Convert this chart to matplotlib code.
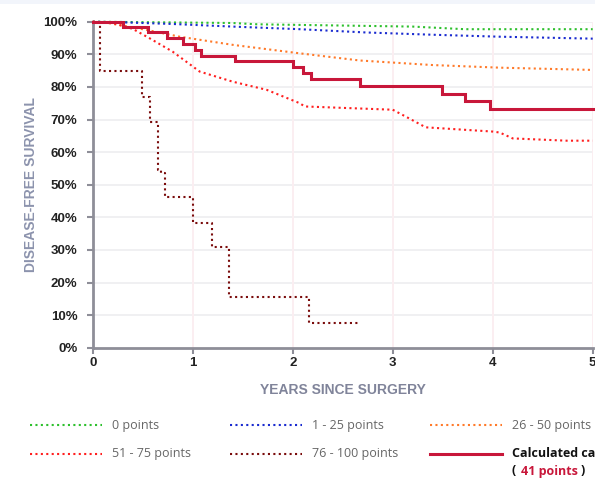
import matplotlib
matplotlib.use("Agg")
import matplotlib.pyplot as plt
from matplotlib.lines import Line2D

# ---- data ----
t_zero = [0, 1.4, 1.65, 3.2, 3.72, 5.0]
s_zero = [100, 99.6, 99.2, 98.5, 97.7, 97.7]

t_low = [0, 0.3, 0.8, 1.4, 2.07, 2.73, 3.4, 4.07, 5.0]
s_low = [100, 99.8, 99.3, 98.5, 97.7, 96.7, 96.0, 95.4, 94.8]

t_mid = [0, 0.17, 0.57, 0.87, 1.4, 2.07, 2.67, 3.4, 4.07, 5.0]
s_mid = [100, 99.5, 97.3, 95.4, 92.9, 90.3, 88.1, 86.7, 85.9, 85.2]

t_high = [0, 0.2, 0.4, 0.57, 0.8, 1.07, 1.4, 1.74, 2.07, 2.12, 3.0, 3.13, 3.33, 4.0, 4.07, 4.2, 4.74, 5.0]
s_high = [100, 99.6, 97.8, 94.9, 90.8, 84.7, 81.6, 79.1, 75.0, 74.0, 73.0, 70.9, 67.6, 66.3, 66.0, 64.2, 63.5, 63.5]

t_vhigh = [0, 0.07, 0.49, 0.57, 0.65, 0.68, 0.72, 1.0, 1.19, 1.36, 2.16, 2.67]
s_vhigh = [100, 84.9, 77.0, 69.3, 54.5, 53.5, 46.3, 38.4, 30.9, 15.5, 7.6, 7.6]

t_case = [0, 0.3, 0.55, 0.74, 0.9, 1.02, 1.08, 1.42, 2.0, 2.1, 2.18, 2.67, 3.49, 3.72, 3.97, 5.0]
s_case = [100, 98.5, 96.7, 94.9, 93.2, 91.3, 89.6, 87.9, 86.0, 84.2, 82.3, 80.3, 77.8, 75.7, 73.3, 73.3]

x_ticks = [0, 1, 2, 3, 4, 5]
y_ticks = [0, 10, 20, 30, 40, 50, 60, 70, 80, 90, 100]

labels = ["0 points", "1 - 25 points", "26 - 50 points", "51 - 75 points", "76 - 100 points"]
colors = ["#2ec02e", "#1a2bd0", "#ff7a2a", "#ff1f1f", "#7a0c0c"]
case_color = "#c8173a"
case_label = "Calculated case"
case_points = "41 points"

W, H = 595, 493
fig = plt.figure(figsize=(W / 100, H / 100), dpi=100)
fig.patch.set_facecolor("white")

# top light band
fig.add_artist(plt.Rectangle((0, 1 - 4 / H), 1, 4 / H, transform=fig.transFigure,
                             facecolor="#f2f5fb", edgecolor="none"))

x0, x1 = 92.7, 592.7
y_top, y_bot = 21.7, 347.7
ax = fig.add_axes([x0 / W, 1 - y_bot / H, (x1 - x0) / W, (y_bot - y_top) / H])
ax.set_xlim(0, 5)
ax.set_ylim(0, 100)

dot = (0, (1, 1.6))
series = [(t_zero, s_zero), (t_low, s_low), (t_mid, s_mid), (t_high, s_high)]
for (t, s), c in zip(series, colors[:4]):
    ax.plot(t, s, color=c, lw=1.5, ls=dot, clip_on=False, zorder=3)
ax.step(t_vhigh, s_vhigh, where="post", color=colors[4], lw=1.5, ls=dot, clip_on=False, zorder=3)
ax.step(t_case, s_case, where="post", color=case_color, lw=2.2, clip_on=False, zorder=4,
        solid_joinstyle="miter")

# grid
for yv in y_ticks[1:]:
    ax.axhline(yv, color="#f0f0f2", lw=1.4, zorder=1)
for xv in x_ticks[1:]:
    ax.axvline(xv, color="#fbeef1", lw=1.4, zorder=1)

for side in ["top", "right"]:
    ax.spines[side].set_visible(False)
for side in ["left", "bottom"]:
    ax.spines[side].set_color("#8e8e98")
    ax.spines[side].set_linewidth(2)

ax.set_xticks(x_ticks)
ax.set_yticks(y_ticks)
ax.set_yticklabels([f"{v}%" for v in y_ticks])
ax.tick_params(axis="both", length=4, width=1.5, color="#8e8e98", labelsize=9.5, labelcolor="#222222")
ax.tick_params(axis="y", pad=7)
ax.tick_params(axis="x", pad=3)
for lab in ax.get_xticklabels() + ax.get_yticklabels():
    lab.set_fontweight("bold")
    lab.set_fontfamily("Liberation Sans")

ax.set_ylabel("DISEASE-FREE SURVIVAL", fontsize=10, color="#8c93ad", fontweight="bold",
              family="Liberation Sans", labelpad=4)
ax.set_xlabel("YEARS SINCE SURGERY", fontsize=10, color="#80849a", fontweight="bold",
              family="Liberation Sans", labelpad=10)

# legend
def fx(px):
    return px / W

def fy(py):
    return 1 - py / H

rows = [425, 453.5]
cols = [(30, 112), (230, 312), (430, 512)]
fs = 9
for i, (lab, c) in enumerate(zip(labels, colors)):
    r, cidx = divmod(i, 3)
    lx, tx = cols[cidx]
    yy = rows[r]
    fig.add_artist(Line2D([fx(lx), fx(lx + 72)], [fy(yy), fy(yy)], transform=fig.transFigure,
                          color=c, lw=1.5, ls=dot))
    fig.text(fx(tx), fy(yy), lab, fontsize=fs, color="#666666", family="Open Sans",
             va="center", ha="left")
# calculated case entry
lx, tx = cols[2]
fig.add_artist(Line2D([fx(lx), fx(lx + 72)], [fy(rows[1]), fy(rows[1])], transform=fig.transFigure,
                      color=case_color, lw=2.2))
fig.text(fx(tx), fy(rows[1]), case_label, fontsize=fs, color="#111111", family="Open Sans",
         fontweight="bold", va="center", ha="left")
t1 = fig.text(fx(tx), fy(471), "( ", fontsize=fs, color="#111111", family="Open Sans",
              fontweight="bold", va="center", ha="left")
t2 = fig.text(0, 0, case_points, fontsize=fs, color=case_color, family="Open Sans",
              fontweight="bold", va="center", ha="left")
fig.canvas.draw()
r = fig.canvas.get_renderer()
bb1 = t1.get_window_extent(r)
t2.set_position((bb1.x1 / W + 1.5 / W, fy(471)))
bb2 = t2.get_window_extent(r)
fig.text(bb2.x1 / W + 3 / W, fy(471), ")", fontsize=fs, color="#111111", family="Open Sans",
         fontweight="bold", va="center", ha="left")

fig.savefig("out.png", dpi=100)
